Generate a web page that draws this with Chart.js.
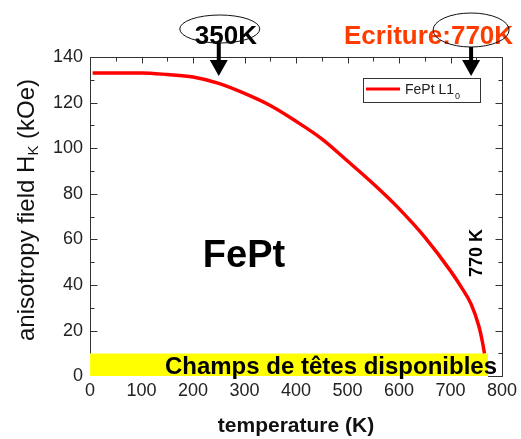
<!DOCTYPE html>
<html>
<head>
<meta charset="utf-8">
<script src="https://cdn.jsdelivr.net/npm/chart.js@4/dist/chart.umd.min.js"></script>
<style>
  html, body { margin: 0; padding: 0; background: #fff; }
  #err { position: absolute; left: 100px; top: 120px; font: 11px monospace; color: blue; white-space: pre; }
</style>
</head>
<body>
<canvas id="hkChart" width="521" height="439"></canvas>
<div id="err"></div>
<script>
// FePt L1_0 anisotropy field vs temperature
var temps = [5, 50, 100, 150, 200, 250, 300, 350, 400, 450, 500, 550, 600, 650, 700, 720, 740, 755, 762, 766];
var hk = [133, 133, 133, 132.3, 131.2, 128.4, 124.0, 118.7, 111.8, 104.1, 94.4, 84.4, 73.5, 61.0, 46.2, 39.4, 31.6, 22.0, 15, 10];

// yellow band: fields available from write heads
var bandTemps = [0, 773];
var bandField = [10, 10];

var xTicks = [0, 100, 200, 300, 400, 500, 600, 700, 800];
var yTicks = [0, 20, 40, 60, 80, 100, 120, 140];

var FONT = "'Liberation Sans', Arial, Helvetica, sans-serif";

function report(e) { document.getElementById('err').textContent += String(e) + '\n'; }

// frame + inward ticks
function drawFrame(chart) {
    var ctx = chart.ctx, a = chart.chartArea;
    var xs = chart.scales.x, ys = chart.scales.y;
    var bandRight = xs.getPixelForValue(bandTemps[1]);
    var bandTop = ys.getPixelForValue(bandField[0]);
    var left = Math.round(a.left) + 0.5, right = Math.round(a.right) + 0.5;
    var top = Math.round(a.top) + 0.5, bottom = Math.round(a.bottom) + 0.5;
    ctx.save();
    ctx.strokeStyle = '#333';
    ctx.lineWidth = 1;
    ctx.beginPath();
    ctx.moveTo(left, bandTop);
    ctx.lineTo(left, top);
    ctx.lineTo(right, top);
    ctx.lineTo(right, bottom);
    ctx.lineTo(bandRight, bottom);
    for (var tv = 0; tv <= 800; tv += 50) {
        var px = Math.round(xs.getPixelForValue(tv)) + 0.5;
        var tl = (tv % 100 === 0) ? 6 : 4;
        ctx.moveTo(px, top);
        ctx.lineTo(px, top + tl);
        if (px > bandRight) {
            ctx.moveTo(px, bottom);
            ctx.lineTo(px, bottom - tl);
        }
    }
    for (var hv = 0; hv <= 140; hv += 10) {
        var py = Math.round(ys.getPixelForValue(hv)) + 0.5;
        var hl = (hv % 20 === 0) ? 7 : 4;
        if (py < bandTop) {
            ctx.moveTo(left, py);
            ctx.lineTo(left + hl, py);
        }
        ctx.moveTo(right, py);
        ctx.lineTo(right - hl, py);
    }
    ctx.stroke();
    ctx.restore();
}

function drawDecor(chart) {
    var ctx = chart.ctx, a = chart.chartArea;
    var xs = chart.scales.x, ys = chart.scales.y;
    ctx.save();

    // y axis title with subscript K
    ctx.translate(34, 210);
    ctx.rotate(-Math.PI / 2);
    ctx.fillStyle = '#111';
    ctx.textBaseline = 'alphabetic';
    var p1 = 'anisotropy field H', p2 = 'K', p3 = ' (kOe)';
    ctx.font = '24px ' + FONT;
    var w1 = ctx.measureText(p1).width, w3 = ctx.measureText(p3).width;
    ctx.font = '15px ' + FONT;
    var w2 = ctx.measureText(p2).width;
    var x0 = -(w1 + w2 + w3) / 2;
    ctx.font = '24px ' + FONT;
    ctx.textAlign = 'left';
    ctx.fillText(p1, x0, 0);
    ctx.font = '15px ' + FONT;
    ctx.fillText(p2, x0 + w1, 4);
    ctx.font = '24px ' + FONT;
    ctx.fillText(p3, x0 + w1 + w2, 0);
    ctx.restore();

    ctx.save();
    // legend box
    var lx = Math.round(a.right - 139), ly = Math.round(a.top + 21);
    ctx.strokeStyle = '#333';
    ctx.lineWidth = 1;
    ctx.strokeRect(lx + 0.5, ly + 0.5, 117, 24);
    ctx.strokeStyle = '#ff0000';
    ctx.lineWidth = 3;
    ctx.beginPath();
    ctx.moveTo(lx + 3, ly + 11);
    ctx.lineTo(lx + 37, ly + 11);
    ctx.stroke();
    ctx.fillStyle = '#222';
    ctx.font = '14px ' + FONT;
    ctx.textBaseline = 'alphabetic';
    ctx.textAlign = 'left';
    var lab = chart.data.datasets[0].label;
    ctx.fillText(lab, lx + 42, ly + 16);
    var lw = ctx.measureText(lab).width;
    ctx.font = '9px ' + FONT;
    ctx.fillText('0', lx + 42 + lw + 1, ly + 21);

    // big FePt label
    ctx.fillStyle = '#000';
    ctx.font = 'bold 38px ' + FONT;
    ctx.fillText('FePt', xs.getPixelForValue(219), ys.getPixelForValue(48));

    // rotated 770 K
    ctx.save();
    ctx.translate(xs.getPixelForValue(751), ys.getPixelForValue(54));
    ctx.rotate(-Math.PI / 2);
    ctx.textAlign = 'center';
    ctx.textBaseline = 'middle';
    ctx.font = 'bold 18px ' + FONT;
    ctx.fillText('770 K', 0, 0);
    ctx.restore();

    // band label
    ctx.font = 'bold 24px ' + FONT;
    ctx.textAlign = 'right';
    ctx.textBaseline = 'alphabetic';
    ctx.fillStyle = '#000';
    ctx.fillText('Champs de t\u00eates disponibles', a.right - 5, a.bottom - 2);

    // top annotations: 350K and Ecriture:770K with arrows
    function arrow(px, y0) {
        ctx.fillStyle = '#000';
        ctx.fillRect(px - 2, y0, 4, a.top + 4 - y0);
        ctx.beginPath();
        ctx.moveTo(px - 9, a.top + 3);
        ctx.lineTo(px + 9, a.top + 3);
        ctx.lineTo(px, a.top + 19);
        ctx.closePath();
        ctx.fill();
    }
    function ellipse(cx, cy, rx, ry) {
        ctx.strokeStyle = '#111';
        ctx.lineWidth = 1;
        ctx.beginPath();
        ctx.ellipse(cx, cy, rx, ry, 0, 0, Math.PI * 2);
        ctx.stroke();
    }
    var ax1 = xs.getPixelForValue(250);
    var ax2 = xs.getPixelForValue(740);

    ctx.font = 'bold 26px ' + FONT;
    ctx.textAlign = 'left';
    ctx.fillStyle = '#000';
    ctx.fillText('350K', ax1 - 24, 44);
    ellipse(ax1 + 1, 29, 40, 14);
    arrow(ax1, 43);

    ctx.fillStyle = '#ff3c00';
    ctx.textAlign = 'right';
    ctx.fillText('Ecriture:770K', ax2 + 42, 44);
    ellipse(ax2, 30, 38, 17);
    arrow(ax2, 47);

    ctx.restore();
}

var decorPlugin = {
    id: 'decor',
    afterDatasetsDraw: function(chart) {
        try { drawFrame(chart); } catch (e) { report(e); }
    },
    afterDraw: function(chart) {
        try { drawDecor(chart); } catch (e) { report(e); }
    }
};

var curve = temps.map(function(t, i) { return { x: t, y: hk[i] }; });
var band = bandTemps.map(function(t, i) { return { x: t, y: bandField[i] }; });

new Chart(document.getElementById('hkChart').getContext('2d'), {
    type: 'line',
    data: {
        datasets: [
            {
                label: 'FePt L1',
                data: curve,
                borderColor: '#ff0000',
                borderWidth: 3.5,
                pointRadius: 0,
                cubicInterpolationMode: 'monotone',
                fill: false
            },
            {
                label: 'band',
                data: band,
                borderWidth: 0,
                backgroundColor: '#ffff00',
                pointRadius: 0,
                fill: 'origin'
            }
        ]
    },
    options: {
        responsive: false,
        animation: false,
        events: [],
        layout: { padding: { left: 54, top: 57, right: 19, bottom: 0 } },
        plugins: {
            legend: { display: false },
            tooltip: { enabled: false }
        },
        scales: {
            x: {
                type: 'linear',
                min: 0,
                max: 800,
                afterBuildTicks: function(s) { s.ticks = xTicks.map(function(v) { return { value: v }; }); },
                grid: { display: false },
                border: { display: false },
                ticks: { color: '#222', padding: -4, font: { family: FONT, size: 18 } },
                title: {
                    display: true,
                    text: 'temperature (K)',
                    color: '#111',
                    padding: { top: 16, bottom: 0 },
                    font: { family: FONT, size: 21, weight: 'bold' }
                }
            },
            y: {
                min: 0,
                max: 140,
                afterBuildTicks: function(s) { s.ticks = yTicks.map(function(v) { return { value: v }; }); },
                grid: { display: false },
                border: { display: false },
                ticks: { color: '#222', padding: -1, font: { family: FONT, size: 18 } }
            }
        }
    },
    plugins: [decorPlugin]
});
</script>
</body>
</html>
